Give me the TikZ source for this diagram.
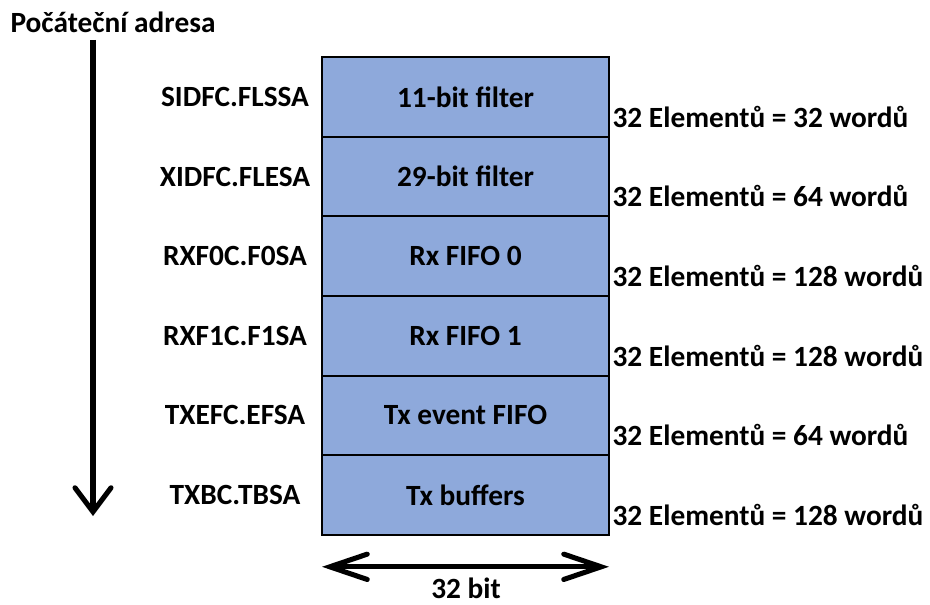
\documentclass[tikz,border=0pt]{standalone}
\usepackage{fontspec}
\setmainfont{Carlito}
\usetikzlibrary{positioning,arrows.meta}
\definecolor{blokmodra}{HTML}{8EA9DB}
\tikzset{
	radek/.style={draw=black, line width=1.5pt, fill=blokmodra, outer sep=0pt, inner sep=0pt,
		minimum width=215.25pt, minimum height=59.7pt, font=\bfseries\fontsize{22}{24}\selectfont},
	adresa/.style={inner sep=0pt, font=\bfseries\fontsize{22}{24}\selectfont},
	pocet/.style={inner sep=0pt, anchor=west, font=\bfseries\fontsize{22}{24}\selectfont},
	dolu/.style={line width=3.8pt, -{Straight Barb[length=18pt,width=27pt,line cap=round]}},
	sirka/.style={line width=3.8pt, {Straight Barb[length=28pt,width=19pt,line cap=round]}-{Straight Barb[length=28pt,width=19pt,line cap=round]}}
}
\begin{document}
\begin{tikzpicture}[x=0.75pt,y=-0.75pt]
	\useasboundingbox (0,0) rectangle (930,605);
	% bloky pameti
	\node[radek] (f11) at (465.5,97) {11-bit filter};
	\node[radek, below=0pt of f11] (f29) {29-bit filter};
	\node[radek, below=0pt of f29] (rx0) {Rx FIFO 0};
	\node[radek, below=0pt of rx0] (rx1) {Rx FIFO 1};
	\node[radek, below=0pt of rx1] (txe) {Tx event FIFO};
	\node[radek, below=0pt of txe] (txb) {Tx buffers};
	% pocatecni adresy
	\coordinate (osa) at (235,0);
	\node[adresa] (sidfc) at (osa |- f11) {SIDFC.FLSSA};
	\node[adresa] (xidfc) at (osa |- f29) {XIDFC.FLESA};
	\node[adresa] (rxf0c) at (osa |- rx0) {RXF0C.F0SA};
	\node[adresa] (rxf1c) at (osa |- rx1) {RXF1C.F1SA};
	\node[adresa] (txefc) at (osa |- txe) {TXEFC.EFSA};
	\node[adresa] (txbc) at (osa |- txb) {TXBC.TBSA};
	% velikosti
	\node[pocet] (p11) at ([xshift=2.5pt,yshift=15pt]f11.south east) {32 Elementů = 32 wordů};
	\node[pocet] (p29) at ([xshift=2.5pt,yshift=15pt]f29.south east) {32 Elementů = 64 wordů};
	\node[pocet] (prx0) at ([xshift=2.5pt,yshift=15pt]rx0.south east) {32 Elementů = 128 wordů};
	\node[pocet] (prx1) at ([xshift=2.5pt,yshift=15pt]rx1.south east) {32 Elementů = 128 wordů};
	\node[pocet] (ptxe) at ([xshift=2.5pt,yshift=15pt]txe.south east) {32 Elementů = 64 wordů};
	\node[pocet] (ptxb) at ([xshift=2.5pt,yshift=15pt]txb.south east) {32 Elementů = 128 wordů};
	% smer adres
	\node[adresa] (nadpis) at (113,22) {Počáteční adresa};
	\coordinate (zacatek) at (93,40);
	\coordinate (konec) at (93,516);
	\draw[dolu] (zacatek) -- (konec);
	% sirka slova
	\coordinate (sl) at ([yshift=-24pt]txb.south west);
	\coordinate (sp) at ([yshift=-24pt]txb.south east);
	\draw[sirka] (sl) -- (sp);
	\node[adresa] (bity) at (466,588) {32 bit};
\end{tikzpicture}
\end{document}
